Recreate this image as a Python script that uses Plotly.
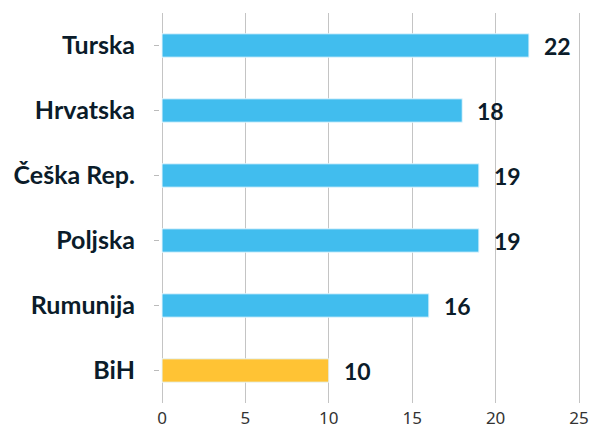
import plotly.graph_objects as go

categories = ["Turska", "Hrvatska", "Češka Rep.", "Poljska", "Rumunija", "BiH"]
values = [22, 18, 19, 19, 16, 10]
colors = ["#41bdee"] * 5 + ["#ffc334"]

fig = go.Figure()
fig.add_trace(go.Bar(
    x=values, y=categories, orientation="h",
    marker=dict(color=colors, line=dict(color="#e6f6fd", width=1)),
    width=0.36, hoverinfo="skip",
))
for c, v in zip(categories, values):
    fig.add_annotation(x=v, y=c, text=f"<b>{v}</b>", showarrow=False,
                       xanchor="left", xshift=13,
                       font=dict(family="Lato", size=23, color="#0b1c2a"))

fig.update_layout(
    width=590, height=428,
    margin=dict(l=160, r=9, t=13, b=25),
    plot_bgcolor="white", paper_bgcolor="white",
    showlegend=False,
    xaxis=dict(range=[-0.12, 25.12], tickvals=[0, 5, 10, 15, 20, 25],
               showgrid=True, gridcolor="#c4c4c4", gridwidth=1,
               zeroline=False, showline=False, automargin=False,
               ticklabelstandoff=3,
               tickfont=dict(family="Noto Sans", size=17, color="#333333"),
               ticks="", fixedrange=True),
    yaxis=dict(categoryorder="array", categoryarray=categories[::-1],
               ticks="outside", ticklen=5, tickcolor="#bbbbbb",
               showgrid=False, zeroline=False, showline=False, automargin=False,
               ticklabelstandoff=14,
               tickfont=dict(family="Lato", size=25, color="#0b1c2a", weight="bold")),
)
fig.write_html("out.html", config={"displayModeBar": False},
               post_script="document.body.style.margin='0';document.body.style.overflow='hidden';")
